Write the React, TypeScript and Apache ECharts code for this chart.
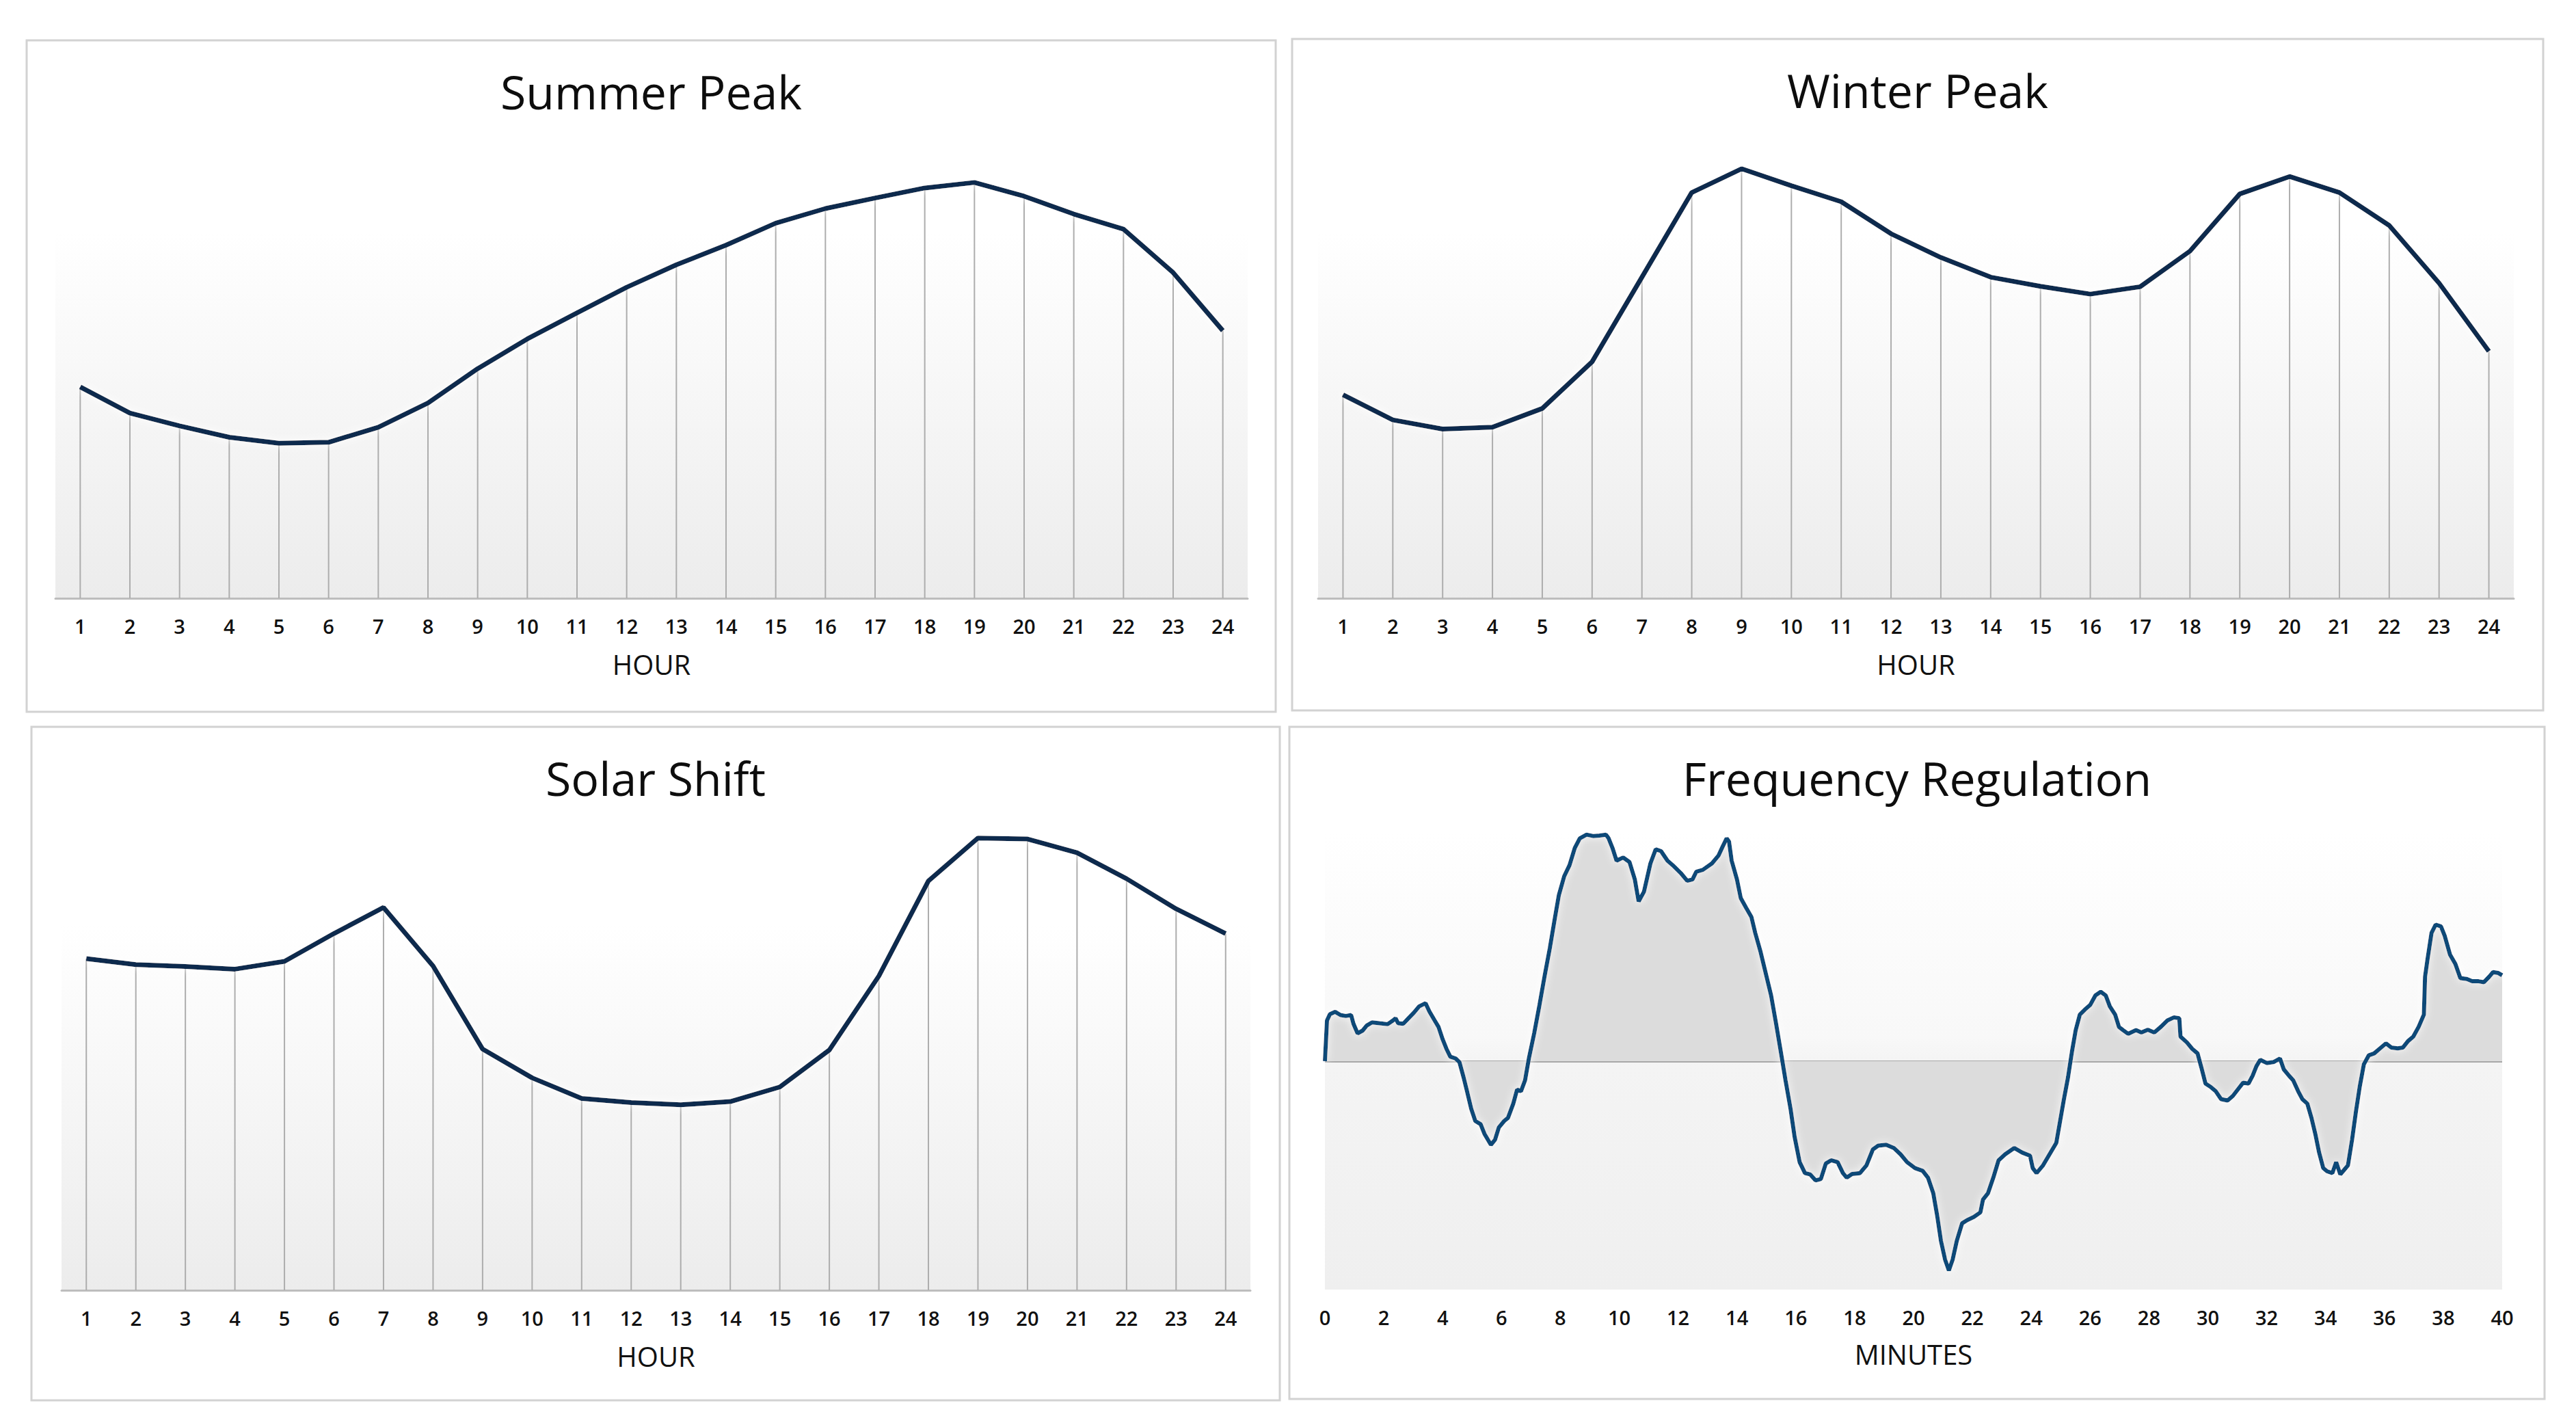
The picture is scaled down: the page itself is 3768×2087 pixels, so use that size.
import React, { useEffect, useRef } from "react";
import * as echarts from "echarts";

const hours = ["1","2","3","4","5","6","7","8","9","10","11","12","13","14","15","16","17","18","19","20","21","22","23","24"];

const summerPeak = [46.2, 40.5, 37.7, 35.2, 33.9, 34.1, 37.4, 42.7, 50.2, 56.7, 62.4, 68.0, 72.9, 77.2, 82.0, 85.2, 87.5, 89.7, 90.9, 87.9, 84.0, 80.7, 71.2, 58.5];
const winterPeak = [44.5, 39.0, 37.0, 37.4, 41.5, 51.7, 70.2, 88.7, 93.9, 90.2, 86.7, 79.7, 74.5, 70.2, 68.2, 66.5, 68.1, 75.9, 88.4, 92.2, 88.7, 81.5, 68.9, 54.0];
const solarShift = [72.6, 71.3, 70.9, 70.3, 72.0, 78.1, 83.8, 71.0, 52.8, 46.5, 42.0, 41.1, 40.6, 41.3, 44.5, 52.6, 68.8, 89.6, 99.0, 98.8, 95.8, 90.1, 83.5, 78.1];

const freqMinutes = [
  0, 0.07, 0.17, 0.35, 0.53, 0.71, 0.89, 0.97, 1.11, 1.28, 1.42, 1.6, 1.86, 2.13, 2.31, 2.4, 2.49, 2.66, 2.84, 3.02,
  3.2, 3.42, 3.55, 3.73, 3.86, 4.0, 4.13, 4.26, 4.44, 4.57, 4.71, 4.84, 4.97, 5.11, 5.29, 5.42, 5.64, 5.78, 5.91, 6.09,
  6.22, 6.4, 6.53, 6.66, 6.8, 6.93, 7.11, 7.29, 7.46, 7.64, 7.82, 7.95, 8.13, 8.31, 8.49, 8.66, 8.89, 9.11, 9.33, 9.55,
  9.64, 9.77, 9.91, 10.13, 10.35, 10.53, 10.66, 10.84, 11.06, 11.24, 11.42, 11.64, 11.82, 12.09, 12.31, 12.49, 12.62, 12.84, 13.15, 13.37,
  13.5, 13.65, 13.73, 13.82, 14.0, 14.13, 14.31, 14.49, 14.62, 14.8, 14.98, 15.16, 15.33, 15.51, 15.65, 15.82, 15.96, 16.13, 16.31, 16.49,
  16.67, 16.85, 17.02, 17.2, 17.42, 17.6, 17.73, 17.91, 18.18, 18.4, 18.62, 18.8, 19.07, 19.33, 19.56, 19.78, 20.05, 20.31, 20.49, 20.67,
  20.8, 20.93, 21.07, 21.2, 21.33, 21.47, 21.65, 21.82, 22.05, 22.27, 22.36, 22.53, 22.71, 22.89, 23.11, 23.42, 23.69, 23.96, 24.05, 24.18,
  24.4, 24.62, 24.85, 24.98, 25.11, 25.25, 25.38, 25.51, 25.65, 25.82, 26.0, 26.18, 26.36, 26.53, 26.67, 26.85, 26.98, 27.12, 27.29, 27.56,
  27.74, 27.96, 28.18, 28.4, 28.62, 28.85, 29.03, 29.07, 29.29, 29.47, 29.65, 29.78, 29.92, 30.09, 30.27, 30.45, 30.67, 30.85, 31.03, 31.2,
  31.38, 31.52, 31.65, 31.78, 32.0, 32.23, 32.45, 32.58, 32.76, 32.9, 33.07, 33.21, 33.38, 33.52, 33.65, 33.78, 33.92, 34.05, 34.23, 34.36,
  34.5, 34.63, 34.76, 34.9, 35.03, 35.16, 35.3, 35.47, 35.65, 35.83, 36.05, 36.23, 36.45, 36.63, 36.8, 36.98, 37.16, 37.34, 37.38, 37.47,
  37.6, 37.74, 37.92, 38.05, 38.23, 38.41, 38.58, 38.8, 38.98, 39.2, 39.38, 39.56, 39.69, 39.87, 40.0
];
const freqValues = [
  0, 8.9, 10.3, 10.8, 10.1, 9.9, 10.1, 8.2, 6.1, 6.7, 7.8, 8.5, 8.3, 8.1, 8.9, 9.4, 8.3, 8.2, 9.4, 10.6,
  12.0, 12.7, 10.9, 8.9, 7.5, 4.8, 2.7, 1.0, 0.6, -0.2, -3.5, -6.9, -10.4, -13.1, -13.8, -15.9, -18.3, -17.2, -14.5, -13.1,
  -12.4, -9.3, -6.2, -6.6, -4.2, 0.6, 6.1, 12.3, 18.5, 24.7, 31.6, 36.4, 40.5, 42.9, 46.7, 48.8, 49.6, 49.3, 49.4, 49.6,
  48.8, 46.7, 43.9, 44.6, 43.6, 39.8, 35.0, 37.1, 43.3, 46.4, 46.0, 43.9, 42.9, 41.2, 39.5, 39.8, 41.5, 41.9, 43.3, 45.0,
  46.8, 48.8, 48.1, 43.9, 39.8, 35.7, 33.6, 31.6, 28.1, 24.0, 19.2, 14.4, 8.2, 1.3, -4.2, -10.4, -16.6, -22.1, -24.5, -24.8,
  -26.1, -25.8, -22.4, -21.7, -22.1, -24.5, -25.5, -24.7, -24.5, -22.8, -19.3, -18.5, -18.3, -19.0, -20.4, -22.1, -23.4, -24.0, -25.5, -28.9,
  -33.7, -39.3, -43.4, -45.8, -43.4, -39.3, -35.5, -34.8, -34.1, -33.1, -30.3, -28.9, -25.5, -21.7, -20.4, -19.0, -20.0, -20.7, -23.4, -24.5,
  -22.8, -20.4, -17.9, -13.1, -8.3, -3.5, 2.0, 6.8, 10.2, 11.3, 12.3, 14.4, 15.2, 14.4, 12.0, 10.2, 7.5, 6.8, 6.0, 6.8,
  6.3, 6.9, 6.3, 7.5, 8.9, 9.6, 9.4, 5.4, 4.1, 2.7, 1.7, -1.4, -4.9, -5.6, -6.6, -8.3, -8.6, -7.6, -6.1, -4.7,
  -4.9, -3.2, -1.1, 0.3, -0.4, -0.2, 0.6, -1.8, -3.2, -4.2, -6.6, -8.3, -9.3, -12.4, -15.9, -20.0, -23.4, -24.1, -24.5, -22.1,
  -24.8, -23.8, -22.8, -17.2, -11.1, -5.6, -0.7, 1.3, 1.7, 2.7, 3.9, 3.0, 2.8, 3.0, 4.4, 5.4, 7.5, 10.2, 18.5, 22.6,
  28.1, 29.9, 29.5, 27.4, 23.3, 21.3, 18.2, 18.0, 17.5, 17.5, 17.3, 18.5, 19.5, 19.3, 18.8
];

const panelTitles = ["Summer Peak", "Winter Peak", "Solar Shift", "Frequency Regulation"];
const minuteTicks = ["0","2","4","6","8","10","12","14","16","18","20","22","24","26","28","30","32","34","36","38","40"];

const FONT = "'Open Sans', 'Noto Sans', sans-serif";
const NAVY = "#0b2a4e";
const FREQ_BLUE = "#0f4a78";

function bgGradient(stops: [number, string][]) {
  return new echarts.graphic.LinearGradient(0, 0, 0, 1, stops.map(([offset, color]) => ({ offset, color })));
}

export default function App() {
  const ref = useRef<HTMLDivElement>(null);

  useEffect(() => {
    document.body.style.margin = "0";
    document.body.style.overflow = "hidden";
    const chart = echarts.init(ref.current!, undefined, { renderer: "svg" });

    const grids = [
      { left: 81, top: 206, width: 1744, height: 669 },
      { left: 1928, top: 206, width: 1749, height: 669 },
      { left: 90, top: 1219, width: 1739, height: 668 },
      { left: 1938, top: 1218, width: 1722, height: 668 },
    ];
    const hourBg = () => bgGradient([[0, "#ffffff"], [0.2, "#ffffff"], [1, "#ececec"]]);

    const axisLabel = { fontSize: 29, color: "#111111", fontWeight: 600, fontFamily: FONT, margin: 26 };
    const nameTextStyle = { fontSize: 40, color: "#111111", fontFamily: FONT };

    const hourXAxis = (gridIndex: number) => ({
      type: "category",
      gridIndex,
      data: hours,
      boundaryGap: true,
      axisLine: { show: true, lineStyle: { color: "#bdbdbd", width: 3 } },
      axisTick: { show: false },
      axisLabel: { ...axisLabel, interval: 0 },
      splitLine: { show: false },
      name: "HOUR",
      nameLocation: "middle",
      nameGap: 76,
      nameTextStyle,
    });
    const hourYAxis = (gridIndex: number) => ({
      type: "value",
      gridIndex,
      min: 0,
      max: 100,
      show: false,
    });

    const hourSeries = (idx: number, data: number[]) => [
      {
        type: "bar",
        xAxisIndex: idx,
        yAxisIndex: idx,
        data,
        barWidth: 2,
        itemStyle: { color: "#adadad" },
        silent: true,
        z: 1,
      },
      {
        type: "line",
        xAxisIndex: idx,
        yAxisIndex: idx,
        data,
        symbol: "none",
        clip: false,
        lineStyle: {
          color: NAVY,
          width: 7,
          shadowColor: "rgba(255,255,255,1)",
          shadowBlur: 12,
        },
        z: 3,
      },
    ];

    const panels = [
      { x: 39, y: 59, w: 1827, h: 982 },
      { x: 1890, y: 57, w: 1830, h: 982 },
      { x: 46, y: 1063, w: 1826, h: 985 },
      { x: 1886, y: 1063, w: 1836, h: 983 },
    ];
    const titleY = [133, 131, 1137, 1137];

    const graphic: any[] = [];
    panels.forEach((p, i) => {
      graphic.push({
        type: "rect",
        z: 0,
        silent: true,
        shape: { x: p.x, y: p.y, width: p.w, height: p.h },
        style: { fill: "none", stroke: "#d2d2d2", lineWidth: 3 },
      });
      graphic.push({
        type: "text",
        x: p.x + p.w / 2,
        y: titleY[i],
        silent: true,
        style: {
          text: panelTitles[i],
          font: `68px ${FONT}`,
          fill: "#0d0d0d",
          align: "center",
          verticalAlign: "middle",
        },
      });
    });

    const freqData = freqMinutes.map((m, i) => [m, freqValues[i]]);

    const option: any = {
      animation: false,
      backgroundColor: "#ffffff",
      graphic,
      grid: grids.map((g, i) => ({
        ...g,
        show: true,
        borderWidth: 0,
        backgroundColor:
          i === 3
            ? bgGradient([[0, "#ffffff"], [0.45, "#f8f8f8"], [0.5, "#f4f4f4"], [1, "#efefef"]])
            : hourBg(),
      })),
      xAxis: [
        hourXAxis(0),
        hourXAxis(1),
        hourXAxis(2),
        {
          type: "value",
          gridIndex: 3,
          min: 0,
          max: 40,
          interval: 2,
          axisLine: { show: false },
          axisTick: { show: false },
          splitLine: { show: false },
          axisLabel: { ...axisLabel, formatter: (v: number) => minuteTicks[Math.round(v / 2)] ?? String(v) },
          name: "MINUTES",
          nameLocation: "middle",
          nameGap: 74,
          nameTextStyle,
        },
      ],
      yAxis: [
        hourYAxis(0),
        hourYAxis(1),
        hourYAxis(2),
        { type: "value", gridIndex: 3, min: -50, max: 50, show: false },
      ],
      series: [
        ...hourSeries(0, summerPeak),
        ...hourSeries(1, winterPeak),
        ...hourSeries(2, solarShift),
        {
          type: "line",
          xAxisIndex: 3,
          yAxisIndex: 3,
          data: freqData,
          symbol: "none",
          clip: false,
          areaStyle: { color: "#dcdcdc", opacity: 1, origin: 0 },
          lineStyle: {
            color: FREQ_BLUE,
            width: 6,
            shadowColor: "rgba(255,255,255,1)",
            shadowBlur: 12,
          },
          markLine: {
            silent: true,
            symbol: "none",
            label: { show: false },
            lineStyle: { color: "#a8a8a8", width: 3, type: "solid" },
            data: [{ yAxis: 0 }],
            z: 2,
          },
          z: 3,
        },
      ],
    };

    chart.setOption(option);
    return () => chart.dispose();
  }, []);

  return <div ref={ref} style={{ width: 3768, height: 2087 }} />;
}
